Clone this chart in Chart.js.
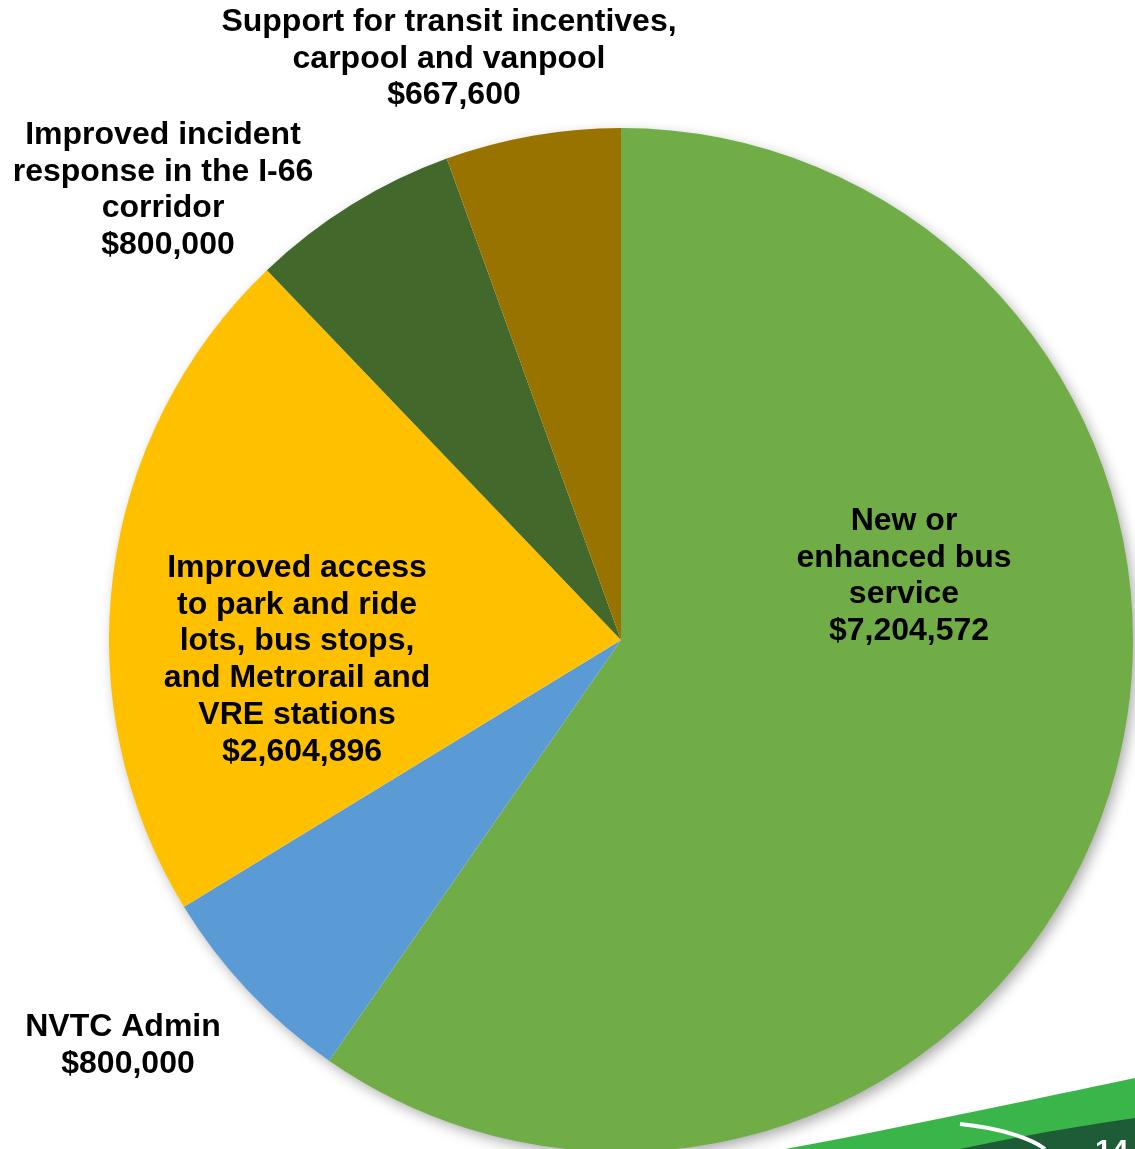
<!DOCTYPE html>
<html>

<head>
    <title>I-66 program</title>
    <script src="https://cdn.jsdelivr.net/npm/chart.js@4.4.0/dist/chart.umd.min.js"></script>
    <style>
        html, body { margin: 0; padding: 0; background: #fff; overflow: hidden; }
        .wrap { position: relative; width: 1135px; height: 1149px; overflow: hidden; }
        .box { position: absolute; left: 0; top: 0; width: 1135px; height: 1160px; }
        .swoosh { position: absolute; left: 0; top: 0; }
    </style>
    <script>
        // slices, clockwise from 12 o'clock
        var categories = ['New or enhanced bus service', 'NVTC Admin',
            'Improved access to park and ride lots, bus stops, and Metrorail and VRE stations',
            'Improved incident response in the I-66 corridor',
            'Support for transit incentives, carpool and vanpool'];
        var amounts = [7204572, 800000, 2604896, 800000, 667600];
        var labelLines = [
            ['New or', 'enhanced bus', 'service'],
            ['NVTC Admin'],
            ['Improved access', 'to park and ride', 'lots, bus stops,', 'and Metrorail and', 'VRE stations'],
            ['Improved incident', 'response in the I-66', 'corridor'],
            ['Support for transit incentives,', 'carpool and vanpool']
        ];
        var colores = ['#70AD47', '#5B9BD5', '#FFC000', '#43682B', '#997300'];
    </script>
</head>

<body>
    <div class="wrap">
        <div class="box">
            <canvas id="pastel"></canvas>
        </div>
        <svg class="swoosh" width="1135" height="1149">
            <path d="M785 1149 C900 1128 1030 1100 1135 1078 L1135 1149 Z" fill="#3AB54A"/>
            <path d="M960 1149 C1020 1136 1080 1126 1135 1118 L1135 1149 Z" fill="#1D5C36"/>
            <path d="M960 1124 C1000 1128 1030 1138 1045 1149" stroke="#fff" stroke-width="4" fill="none"/>
            <text x="1095" y="1160" fill="#fff" font-family="Liberation Sans" font-weight="bold" font-size="30">14</text>
        </svg>
    </div>

    <script>
        // where each label block sits (centre x, first line y), value line nudged a bit
        var posEtiquetas = [
            { x: 904, y: 521, dx: 5 },
            { x: 123, y: 1027, dx: 5 },
            { x: 297, y: 568, dx: 5 },
            { x: 163, y: 135, dx: 5 },
            { x: 449, y: 22, dx: 5 }
        ];
        var alturaLinea = 36.8;

        function formato(v) {
            return '$' + v.toLocaleString('en-US');
        }

        var sombra = {
            id: 'sombra',
            beforeDatasetsDraw: function (chart) {
                var arc = chart.getDatasetMeta(0).data[0];
                var ctx = chart.ctx;
                ctx.save();
                ctx.shadowColor = 'rgba(0,0,0,0.35)';
                ctx.shadowBlur = 14;
                ctx.shadowOffsetX = 4;
                ctx.shadowOffsetY = 5;
                ctx.fillStyle = '#fff';
                ctx.beginPath();
                ctx.arc(arc.x, arc.y, arc.outerRadius - 1, 0, Math.PI * 2);
                ctx.fill();
                ctx.restore();
            }
        };

        var etiquetas = {
            id: 'etiquetas',
            afterDatasetsDraw: function (chart) {
                var ctx = chart.ctx;
                ctx.save();
                ctx.font = 'bold 32px "Liberation Sans", Arial, sans-serif';
                ctx.fillStyle = '#000';
                ctx.textAlign = 'center';
                ctx.textBaseline = 'middle';
                for (var i = 0; i < amounts.length; i++) {
                    var p = posEtiquetas[i];
                    var lineas = labelLines[i];
                    for (var j = 0; j < lineas.length; j++) {
                        ctx.fillText(lineas[j], p.x, p.y + j * alturaLinea);
                    }
                    ctx.fillText(formato(amounts[i]), p.x + p.dx, p.y + lineas.length * alturaLinea);
                }
                ctx.restore();
            }
        };

        var ctx = document.getElementById('pastel').getContext('2d');
        var grafico = new Chart(ctx, {
            type: 'pie',
            data: {
                labels: categories,
                datasets: [{
                    data: amounts,
                    backgroundColor: colores,
                    borderWidth: 0
                }]
            },
            options: {
                responsive: true,
                maintainAspectRatio: false,
                animation: false,
                layout: {
                    padding: { left: 109, right: 2, top: 128, bottom: 8 }
                },
                plugins: {
                    legend: { display: false },
                    tooltip: { enabled: false }
                }
            },
            plugins: [sombra, etiquetas]
        });
    </script>
</body>

</html>
